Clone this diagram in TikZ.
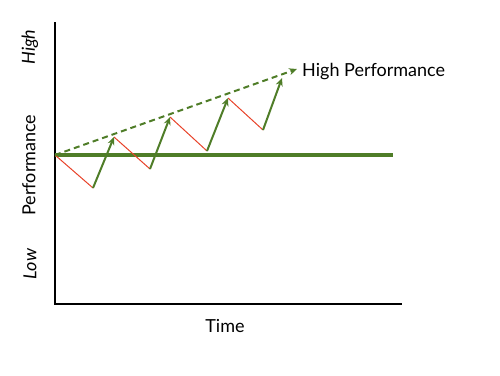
\documentclass[tikz,border=0pt]{standalone}
\usepackage{fontspec}
\setmainfont{Lato}
\usetikzlibrary{arrows.meta}
\definecolor{pgreen}{HTML}{4F7D28}
\definecolor{pred}{HTML}{E8432A}
\tikzset{
  axis/.style={line width=1.6pt, black},
  base/.style={line width=4pt, pgreen},
  drop/.style={line width=1pt, pred},
  rise/.style={line width=2pt, pgreen, -{Stealth[length=8pt,width=7pt]}},
  trend/.style={line width=2pt, pgreen, dashed, dash pattern=on 6pt off 4pt, -{Stealth[length=8pt,width=7pt]}},
  lbl/.style={font=\fontsize{18}{21}\selectfont, inner sep=0pt},
}
\begin{document}
\begin{tikzpicture}[x=1pt,y=-1pt]
\useasboundingbox (0,0) rectangle (500,375);
\coordinate (top) at (55,22);
\coordinate (origin) at (55,304);
\coordinate (xend) at (402,304);
\draw[axis] (top) -- (origin) -- (xend);
\coordinate (s) at (55,155);
\coordinate (bend) at (393,155);
\draw[base] (s) -- (bend);
\coordinate (a1) at (93,188);
\coordinate (b1) at (114,137);
\coordinate (a2) at (150,169);
\coordinate (b2) at (170,117);
\coordinate (a3) at (207,151);
\coordinate (b3) at (228,98);
\coordinate (a4) at (263,130);
\coordinate (b4) at (282,78);
\coordinate (t) at (297,69);
\draw[drop] (s) -- (a1);
\draw[drop] (b1) -- (a2);
\draw[drop] (b2) -- (a3);
\draw[drop] (b3) -- (a4);
\draw[rise] (a1) -- (b1);
\draw[rise] (a2) -- (b2);
\draw[rise] (a3) -- (b3);
\draw[rise] (a4) -- (b4);
\draw[trend] (s) -- (t);
\node[lbl, anchor=west] (hp) at (302,72) {High Performance};
\node[lbl] (time) at (225,326) {Time};
\node[lbl, rotate=90] (perf) at (29,165) {Performance};
\node[lbl, rotate=90] (high) at (30,47) {\itshape High};
\node[lbl, rotate=90] (low) at (30,264) {\itshape Low};
\end{tikzpicture}
\end{document}
